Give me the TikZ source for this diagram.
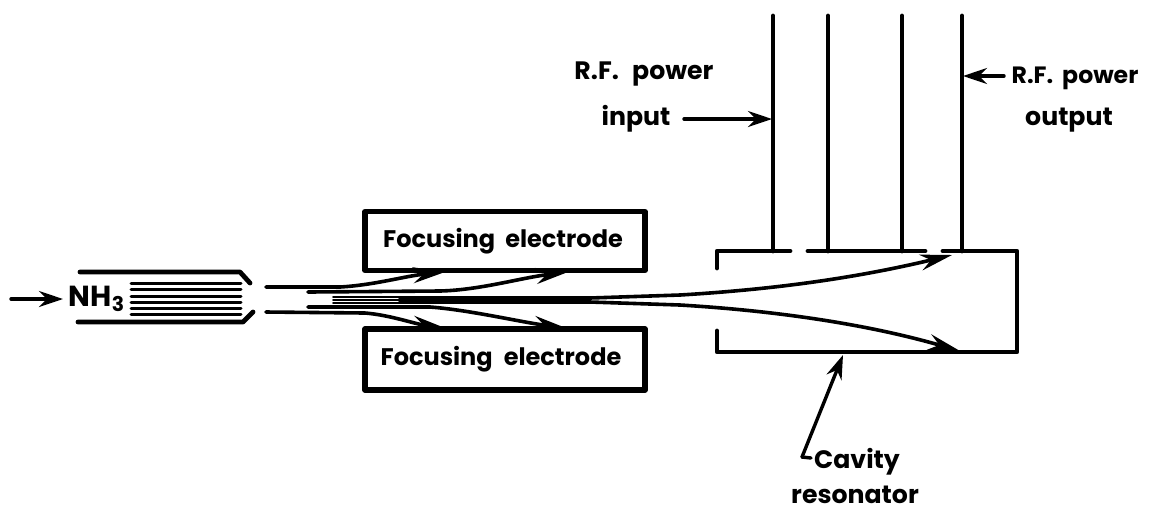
\documentclass[tikz,border=0pt]{standalone}
\usepackage{fontspec}
\setmainfont{Poppins}
\usetikzlibrary{arrows.meta}
\begin{document}
\begin{tikzpicture}[x=0.5pt, y=-0.5pt, line cap=round, line join=round, >=stealth]
  \tikzstyle{electrode} = [rectangle, draw, line width=2.6pt, minimum width=140pt, inner sep=0pt, font=\bfseries\fontsize{12pt}{14pt}\selectfont]
  \tikzstyle{label} = [inner sep=0pt, font=\bfseries\fontsize{12.6pt}{14pt}\selectfont]
  \tikzstyle{wall} = [draw, line width=2.4pt]
  \tikzstyle{line} = [draw, line width=1.7pt, -{Stealth[length=12pt, width=8pt]}]
  \tikzstyle{beam} = [draw, line width=1.8pt, -{Stealth[length=16pt, width=8pt]}]
  \useasboundingbox (0,0) rectangle (1154,510);

  % source
  \draw [wall] (80,272) -- (240,272) -- (250,283);
  \draw [wall] (78,322) -- (243,322) -- (253,312);
  \foreach \y in {283,289,296,302,308,314}
    \draw [line width=1.5pt] (131,\y) -- (241,\y);
  \node [label, font=\bfseries\fontsize{14.5pt}{16pt}\selectfont] (nh) at (97,299) {NH$_{\mathbf 3}$};
  \coordinate (feed) at (11,299);
  \coordinate (feedend) at (63,299);
  \path [line] (feed) -- (feedend);

  % electrodes
  \node [electrode, minimum height=29.5pt] (upper) at (505,241) {\hspace{-2pt}Focusing\hspace{2.5pt} electrode};
  \node [electrode, minimum height=30.5pt] (lower) at (505,359.5) {\hspace{-4pt}Focusing\hspace{3pt} electrode};

  % beam
  \path [beam] (266,287) -- (340,287) .. controls (375,285) and (405,276) .. (445,272);
  \path [beam] (308,292) -- (440,291) .. controls (480,290) and (520,278) .. (568,272);
  \path [beam] (266,312) -- (365,313) .. controls (390,315) and (415,324) .. (445,328);
  \path [beam] (308,307) -- (430,307) .. controls (470,310) and (520,322) .. (566,328);
  \foreach \y in {297,300,303}
    \draw [line width=1pt] (333,\y) -- (585,\y);
  \path [beam] (400,298) -- (590,298) -- (680,295) .. controls (780,289) and (860,277) .. (952,255);
  \path [beam] (400,302) -- (590,302) -- (680,305) .. controls (780,311) and (870,325) .. (960,351);

  % cavity
  \draw [wall] (717,268) -- (717,251) -- (790,251);
  \draw [wall] (808,251) -- (925,251);
  \draw [wall] (943,251) -- (1017,251) -- (1017,352) -- (717,352) -- (717,331);
  \foreach \x/\name in {773/a,828/b,902/c,962/d} {
    \coordinate (top\name) at (\x,16);
    \coordinate (foot\name) at (\x,251);
    \draw [wall] (top\name) -- (foot\name);
  }

  % labels
  \node [label] (rfin) at (644,74) {R.F.\hspace{4pt} power};
  \node [label] (inp) at (636,119) {input};
  \node [label, font=\bfseries\fontsize{11.8pt}{14pt}\selectfont] (rfout) at (1075,78) {R.F.\hspace{2pt} power};
  \node [label] (outp) at (1069,120) {output};
  \node [label] (cav) at (857,462) {Cavity};
  \node [label] (res) at (855,495) {resonator};
  \coordinate (inptail) at (684,119);
  \coordinate (inpin) at (772,119);
  \coordinate (outtail) at (1004,76);
  \coordinate (outpin) at (963,76);
  \coordinate (cavpin) at (843,355);
  \coordinate (cavfoot) at (802,457);
  \coordinate (cavtick) at (811,458);
  \path [line] (inptail) -- (inpin);
  \path [line] (outtail) -- (outpin);
  \path [line] (cavfoot) -- (cavpin);
  \draw [line width=1.7pt] (cavfoot) -- (cavtick);
\end{tikzpicture}
\end{document}
